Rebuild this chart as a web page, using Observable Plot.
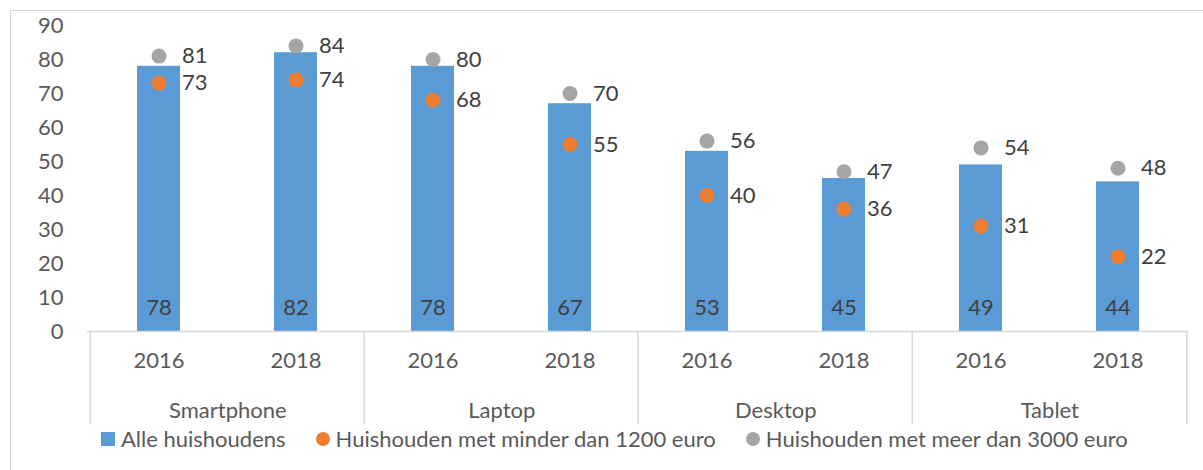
<!DOCTYPE html>
<html>
<head>
<meta charset="utf-8">
<script src="https://cdn.jsdelivr.net/npm/d3@7"></script>
<script src="https://cdn.jsdelivr.net/npm/@observablehq/plot@0.6"></script>
<style>
  html, body { margin: 0; padding: 0; background: #fff; }
  body { width: 1203px; height: 470px; position: relative; overflow: hidden; font-family: "Lato", sans-serif; }
  #frame { position: absolute; left: 10px; top: 10px; width: 1220px; height: 480px; border: 1.5px solid #d9d9d9; box-sizing: border-box; }
  #chart { position: absolute; left: 0; top: 0; }
  #legend { position: absolute; left: 101px; top: 425px; display: flex; align-items: center; font-size: 22px; color: #595959; white-space: nowrap; }
  .item { display: flex; align-items: center; margin-right: 30px; }
  .sw { width: 14px; height: 14px; margin-right: 6px; }
  .circ { border-radius: 50%; }
</style>
</head>
<body>
<div id="frame"></div>
<div id="chart"></div>
<div id="legend"></div>
<script>
const categories = ["Smartphone", "Laptop", "Desktop", "Tablet"];
const years = ["2016", "2018"];
const alleHuishoudens = [78, 82, 78, 67, 53, 45, 49, 44];
const minderDan1200 = [73, 74, 68, 55, 40, 36, 31, 22];
const meerDan3000 = [81, 84, 80, 70, 56, 47, 54, 48];
const yTicks = [0, 10, 20, 30, 40, 50, 60, 70, 80, 90];
const seriesNames = ["Alle huishoudens", "Huishouden met minder dan 1200 euro", "Huishouden met meer dan 3000 euro"];
const seriesColors = ["#5B9BD5", "#ED7D31", "#A5A5A5"];

const rows = categories.flatMap((c, i) => years.map((y, j) => ({
  cat: c, year: y, key: c + "|" + y,
  alle: alleHuishoudens[i * 2 + j],
  minder: minderDan1200[i * 2 + j],
  meer: meerDan3000[i * 2 + j]
})));
const keys = rows.map(d => d.key);

const W = 1203, H = 425, ML = 87, MR = 15, MT = 25, MB = 94;
const step = (W - ML - MR) / keys.length;
const textColor = "#404040";

const plot = Plot.plot({
  width: W, height: H,
  marginLeft: ML, marginRight: MR, marginTop: MT, marginBottom: MB,
  style: { fontFamily: "Lato", fontSize: "22px", color: "#595959", background: "transparent" },
  x: { type: "band", domain: keys, padding: 0, label: null },
  y: { domain: [0, 90], label: null },
  marks: [
    Plot.barY(rows, { x: "key", y: "alle", fill: seriesColors[0], insetLeft: 47, insetRight: 47 }),
    Plot.ruleY([0], { stroke: "#d9d9d9", strokeWidth: 1.5 }),
    Plot.ruleX(categories, { x: c => c + "|2016", dx: -step / 2, y1: 0, y2: -27.5, stroke: "#d9d9d9", strokeWidth: 1.5 }),
    Plot.ruleX(["Tablet|2018"], { x: d => d, dx: step / 2, y1: 0, y2: -27.5, stroke: "#d9d9d9", strokeWidth: 1.5 }),
    Plot.axisY({ ticks: yTicks, tickSize: 0, tickPadding: 24, fill: "#595959", label: null }),
    Plot.axisX({ tickFormat: k => k.split("|")[1], tickSize: 0, tickPadding: 21, fill: "#595959", label: null }),
    Plot.text(categories, { x: c => c + "|2016", y: () => 0, text: c => c, dx: step / 2, dy: 79, fill: "#595959" }),
    Plot.text(rows, { x: "key", y: () => 0, text: "alle", dy: -24, fill: textColor }),
    Plot.dot(rows, { x: "key", y: "meer", r: 7.5, fill: seriesColors[2] }),
    Plot.dot(rows, { x: "key", y: "minder", r: 7.5, fill: seriesColors[1] }),
    Plot.text(rows, { x: "key", y: "meer", text: "meer", dx: 23, textAnchor: "start", fill: textColor }),
    Plot.text(rows, { x: "key", y: "minder", text: "minder", dx: 23, textAnchor: "start", fill: textColor })
  ]
});
document.getElementById("chart").appendChild(plot);

const legend = document.getElementById("legend");
seriesNames.forEach((n, i) => {
  const item = document.createElement("div");
  item.className = "item";
  const sw = document.createElement("div");
  sw.className = "sw" + (i > 0 ? " circ" : "");
  sw.style.background = seriesColors[i];
  const t = document.createElement("span");
  t.textContent = n;
  item.appendChild(sw); item.appendChild(t);
  legend.appendChild(item);
});
</script>
</body>
</html>
